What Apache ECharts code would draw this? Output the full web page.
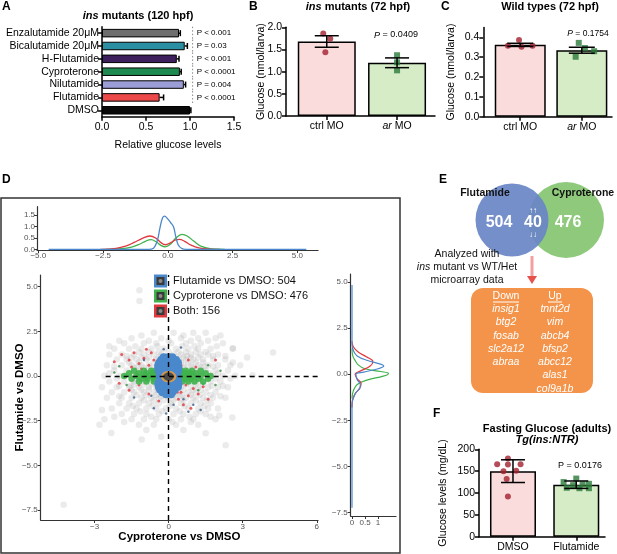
<!DOCTYPE html>
<html><head><meta charset="utf-8">
<script src="https://cdn.jsdelivr.net/npm/echarts@6/dist/echarts.min.js"></script>
<style>html,body{margin:0;padding:0;background:#fff}#c{width:617px;height:554px}</style>
</head><body><div id="c"></div>
<script>
const FONT = 'Liberation Sans, Arial, Helvetica, sans-serif';

// ---------- Panel A ----------
const aCategories = ['Enzalutamide 20\u03bcM','Bicalutamide 20\u03bcM','H-Flutamide','Cyproterone','Nilutamide','Flutamide','DMSO'];
const aValues = [0.875, 0.94, 0.85, 0.885, 0.93, 0.655, 1.0];
const aErrors = [0.015, 0.03, 0.025, 0.015, 0.02, 0.045, 0.01];
const aColors = ['#6e6e6e','#2a8fa2','#3c1f5c','#1f8a4f','#9b9dd6','#ec4a4a','#0a0a0a'];
const aPLabels = ['P < 0.001','P = 0.03','P < 0.001','P < 0.0001','P = 0.004','P < 0.0001'];
const aPLineAt = 1.03;

// ---------- Panel B ----------
const bCategories = ['ctrl MO','ar MO'];
const bMeans = [1.68, 1.20];
const bSem = [0.13, 0.11];
const bCtrlPoints = [1.86, 1.74, 1.44];
const bArPoints = [1.37, 1.21, 1.03];
const bCtrlJitter = [-0.05, 0.05, -0.02];
const bArJitter = [0, 0, 0];

// ---------- Panel C ----------
const cCategories = ['ctrl MO','ar MO'];
const cMeans = [0.362, 0.335];
const cSem = [0.008, 0.015];
const cCtrlPoints = [0.387, 0.358, 0.352, 0.358];
const cArPoints = [0.372, 0.346, 0.33, 0.302];
const cCtrlJitter = [-0.02, -0.2, 0.02, 0.2];
const cArJitter = [-0.05, 0.05, 0.2, -0.1];

// ---------- Panel F ----------
const fCategories = ['DMSO','Flutamide'];
const fMeans = [150, 119];
const fSd = [26, 8.5];
const fDmsoPoints = [179, 166, 165, 166, 150, 151, 132, 92];
const fFlutPoints = [133, 125, 121, 120, 118, 112, 111, 111];
const fDmsoJitter = [-0.08, -0.25, -0.08, 0.12, -0.15, 0.05, -0.1, -0.08];
const fFlutJitter = [0.0, -0.2, 0.2, 0.1, -0.05, -0.15, 0.05, 0.2];

// ---------- Panel D : scatter (x = Cyproterone vs DMSO, y = Flutamide vs DMSO) ----------
// rows: [y, [x values]]
const grayRows = [
 [2.42, [-0.6, 0.2, 1.0, 1.5]],
 [2.27, [-1.1, 0.6, 2.1]],
 [2.12, [-1.5, -0.3, 0.5, 1.2, 1.9]],
 [1.97, [-2.0, -0.8, 0.0, 0.9, 1.6]],
 [1.83, [-1.8, -1.0, -0.5, 0.1, 0.7, 1.3, 2.2]],
 [1.67, [-2.4, -1.35, -0.45, 0.55, 1.05, 1.95]],
 [1.52, [-2.2, -1.6, -1.1, -0.7, -0.2, 0.3, 0.8, 1.2, 1.7, 2.6]],
 [1.35, [-1.2, -0.8, -0.4, 0.0, 0.4, 0.7, 1.1, 1.5]],
 [1.21, [-2.4, -1.9, -1.4, -1.0, -0.6, -0.3, 0.2, 0.5, 0.9, 1.3, 1.6, 2.0]],
 [1.12, [-1.7, -0.15, 0.75, 1.8, 2.3]],
 [1.04, [-1.5, -1.1, -0.8, -0.4, 0.0, 0.3, 0.6, 0.9, 1.2]],
 [0.92, [-2.1, -1.7, -1.3, -0.9, -0.5, -0.2, 0.1, 0.4, 0.7, 1.0, 1.4, 1.8, 2.3]],
 [0.76, [-1.6, -1.2, -0.6, -0.3, 0.0, 0.2, 0.5, 0.8, 1.1, 1.4, 2.6]],
 [0.61, [-2.5, -1.9, -1.5, -1.1, -0.8, -0.4, -0.1, 0.3, 0.6, 0.9, 1.2, 1.6, 2.0, 2.5]],
 [0.53, [-2.2, -1.25, 0.15, 1.45, 1.8]],
 [0.46, [-1.4, -1.0, -0.7, -0.45, 0.0, 0.35, 0.65, 0.95, 1.3]],
 [0.31, [-2.2, -1.7, -1.3, -0.9, -0.6, -0.3, 0.2, 0.5, 0.8, 1.1, 1.5, 1.9, 2.4]],
 [0.15, [-2.4, -1.2, -0.8, -0.5, 0.45, 0.75, 1.2, 1.65, 2.0]],
 [0.02, [-2.6, -2.0, -1.5, -1.1, -0.7, 0.6, 1.0, 1.4, 1.8, 2.2, 2.7]],
 [-0.14, [-2.1, -1.3, -0.9, -0.5, 0.5, 0.9, 1.2, 1.9, 2.5]],
 [-0.31, [-2.4, -1.8, -1.4, -1.0, -0.6, -0.3, 0.3, 0.7, 1.0, 1.3, 1.7, 2.1]],
 [-0.46, [-1.4, -1.0, -0.7, -0.4, 0.0, 0.4, 0.7, 1.1, 1.4]],
 [-0.55, [-2.0, -1.55, 0.1, 1.75, 2.2]],
 [-0.62, [-2.7, -2.1, -1.6, -1.2, -0.8, -0.5, -0.1, 0.2, 0.5, 0.9, 1.2, 1.6, 2.0, 2.4]],
 [-0.76, [-1.5, -1.1, -0.8, -0.45, -0.1, 0.25, 0.6, 1.0, 1.3]],
 [-0.91, [-2.3, -1.8, -1.4, -1.0, -0.6, -0.3, 0.1, 0.4, 0.8, 1.1, 1.5, 1.9]],
 [-1.06, [-1.3, -0.9, -0.5, -0.15, 0.2, 0.55, 0.9, 1.25, 1.7]],
 [-1.13, [-2.0, -0.3, 0.45, 2.1]],
 [-1.22, [-2.5, -1.9, -1.5, -1.1, -0.7, -0.4, 0.0, 0.3, 0.7, 1.0, 1.4, 1.8, 2.3]],
 [-1.36, [-1.0, -0.6, -0.2, 0.2, 0.6, 1.1, 1.55]],
 [-1.52, [-2.0, -1.6, -1.2, -0.8, -0.4, 0.1, 0.5, 0.9, 1.3, 1.7]],
 [-1.67, [-1.45, -0.65, 0.05, 0.65, 1.45]],
 [-1.81, [-2.3, -1.7, -1.3, -0.9, -0.5, -0.1, 0.3, 0.8, 1.2, 1.6, 2.0]],
 [-1.97, [-1.15, -0.25, 0.45, 1.3]],
 [-2.12, [-1.9, -1.4, -0.9, -0.4, 0.2, 0.6, 1.1, 1.5]],
 [-2.27, [-2.2, -0.7, 0.85, 1.7]],
 [-2.41, [-2.6, -1.5, -1.0, -0.5, 0.0, 0.5, 1.0, 1.9]],
 [-2.57, [-1.8, 0.15, 0.9]],
 [-2.72, [-2.8, -1.2, -0.6, 0.3, 1.2]],
 [-3.02, [-0.9, 0.6]]
];
const grayOutliers = [[-4.25,-7.2],[-1.18,4.8],[-1.18,4.2],[-2.32,-3.18],[-1.09,-3.55],[2.31,-3.87],[4.23,1.31],[3.18,1.03],[2.58,-2.32],[2.6,1.55],[-2.7,-1.9],[1.5,-3.2],[-0.3,-3.4],[2.9,0.6],[3.4,0.05],[2.05,-2.2]];
const blueRows = [
 [1.05, [-0.2, 0.0, 0.15]],
 [0.9, [-0.3, -0.1, 0.1, 0.3]],
 [0.75, [-0.38, -0.2, 0.0, 0.2, 0.38]],
 [0.6, [-0.42, -0.25, -0.05, 0.15, 0.35]],
 [0.45, [-0.42, -0.22, 0.0, 0.2, 0.4]],
 [0.3, [-0.4, -0.2, 0.0, 0.2, 0.38]],
 [0.15, [-0.35, -0.18, 0.18, 0.35]],
 [0.0, [-0.35, -0.2, 0.2, 0.35]],
 [-0.15, [-0.35, -0.18, 0.18, 0.35]],
 [-0.3, [-0.38, -0.2, 0.0, 0.2, 0.38]],
 [-0.45, [-0.42, -0.22, 0.0, 0.2, 0.4]],
 [-0.6, [-0.4, -0.2, 0.0, 0.2, 0.38]],
 [-0.75, [-0.35, -0.15, 0.05, 0.25]],
 [-0.9, [-0.25, -0.05, 0.15]],
 [-1.02, [-0.1, 0.1]]
];
const blueScattered = [[0.5,1.6],[-0.6,-1.8],[0.8,-2.0],[-1.0,0.9],[0.2,-1.6],[-0.2,1.5],[1.0,-1.6],[-1.4,-1.2],[0.6,-1.3],[-0.7,-1.1],[1.3,-1.9],[-0.1,-2.1]];
const greenRows = [
 [0.3, [-1.4, -1.0, -0.7, -0.5, 0.5, 0.7, 0.95, 1.3]],
 [0.15, [-1.6, -1.2, -0.9, -0.65, -0.45, 0.45, 0.65, 0.85, 1.1, 1.5]],
 [0.0, [-1.8, -1.3, -1.0, -0.8, -0.6, -0.4, 0.4, 0.6, 0.8, 1.0, 1.3, 1.7]],
 [-0.15, [-1.5, -1.1, -0.85, -0.6, -0.45, 0.45, 0.65, 0.9, 1.2, 1.6]],
 [-0.3, [-1.2, -0.9, -0.6, 0.55, 0.8, 1.05, 1.4]]
];
const greenScattered = [[-2.0,0.55],[1.9,-0.5],[1.6,0.6],[-1.7,-0.5],[1.2,-0.8],[-2.2,0.2],[2.1,0.3],[1.4,-0.45]];
const redPoints = [[-1.9,1.2],[-1.6,0.9],[-1.4,1.3],[-1.2,0.7],[-1.0,1.0],[-0.8,0.6],[-0.6,0.9],[-0.5,0.5],[-0.9,1.5],[-1.5,0.5],[-0.3,0.7],[-0.7,1.3],[-2.2,0.8],[-1.1,0.4],
 [0.3,-0.6],[0.5,-0.9],[0.7,-0.5],[0.4,-1.3],[0.8,-1.1],[1.0,-0.7],[0.6,-1.6],[1.2,-1.0],[0.9,-1.8],[1.4,-0.6],[0.35,-0.9],[1.6,-1.3],
 [0.5,0.6],[0.8,0.9],[1.1,0.5],[-0.5,-0.6],[-0.8,-1.0],[-1.2,-0.5],[-0.4,-1.4],[-1.6,-0.8],[1.9,0.9],[-2.0,-0.4],[0.3,1.0],[-0.3,-0.9]];
const centerPoint = [[0.0, -0.03]];
const legendLabels = ['Flutamide vs DMSO: 504','Cyproterone vs DMSO: 476','Both: 156'];

// marginal densities: top = [x, density]; right = [density, y]
const topGreen = [[-2.4,0],[-1.8,0.03],[-1.4,0.1],[-1.1,0.22],[-0.85,0.36],[-0.65,0.42],[-0.45,0.33],[-0.25,0.16],[-0.1,0.11],[0.1,0.22],[0.3,0.48],[0.55,0.65],[0.75,0.58],[1.0,0.36],[1.3,0.13],[1.7,0.02],[2.2,0]];
const topRed = [[-2.6,0],[-2.0,0.04],[-1.6,0.15],[-1.3,0.3],[-1.0,0.47],[-0.7,0.58],[-0.45,0.48],[-0.25,0.28],[-0.1,0.2],[0.1,0.28],[0.3,0.41],[0.45,0.43],[0.65,0.35],[0.9,0.18],[1.2,0.06],[1.6,0.01],[2.0,0]];
const topBlue = [[-4.6,0],[-0.75,0],[-0.55,0.05],[-0.4,0.4],[-0.3,0.95],[-0.2,1.38],[-0.12,1.45],[-0.02,1.35],[0.1,1.18],[0.22,0.98],[0.3,0.6],[0.4,0.2],[0.55,0.03],[0.7,0],[5.35,0]];
const rightGreen = [[0,1.4],[0.03,1.0],[0.12,0.75],[0.25,0.5],[0.5,0.3],[1.1,0.15],[1.4,0.05],[1.2,-0.1],[0.6,-0.3],[0.2,-0.55],[0.05,-0.9],[0,-1.3]];
const rightRed = [[0,1.8],[0.05,1.5],[0.25,1.2],[0.55,0.95],[0.8,0.7],[0.7,0.45],[0.35,0.2],[0.12,0.0],[0.2,-0.25],[0.35,-0.5],[0.3,-0.75],[0.12,-1.05],[0.02,-1.4],[0,-1.8]];
const rightBlue = [[0,4.85],[0,1.6],[0.05,1.3],[0.2,1.0],[0.6,0.75],[1.1,0.55],[1.22,0.45],[1.0,0.3],[0.45,0.12],[0.15,0.0],[0.2,-0.3],[0.32,-0.55],[0.3,-0.75],[0.15,-1.0],[0.05,-1.3],[0,-1.6],[0,-7.25]];

// ---------- Panel E ----------
const vennLeftName = 'Flutamide', vennRightName = 'Cyproterone';
const vennCounts = ['504','40','476'];
const downGenes = ['insig1','btg2','fosab','slc2a12','abraa'];
const upGenes = ['tnnt2d','vim','abcb4','bfsp2','abcc12','alas1','col9a1b'];

// ================= helpers =================
function expandRows(rows){ const out=[]; rows.forEach(r=>r[1].forEach(x=>out.push([x,r[0]]))); return out; }
function mfmt(v,d){ const s=Math.abs(v).toFixed(d); return v<-1e-9 ? '\u2212'+s : s; }
const BLK = {color:'#000', width:1.5};
function gpAxis(extra){ // GraphPad-like axis
  return Object.assign({
    nameMoveOverlap:false,
    axisLine:{show:true, onZero:false, lineStyle:BLK},
    axisTick:{show:true, length:4, lineStyle:BLK},
    axisLabel:{color:'#000', fontSize:10.5, fontFamily:FONT, margin:4},
    splitLine:{show:false},
    nameTextStyle:{color:'#000', fontSize:10.5, fontFamily:FONT}
  }, extra);
}
function ggAxis(extra){
  return Object.assign({
    nameMoveOverlap:false,
    axisLine:{show:true, onZero:false, lineStyle:{color:'#333', width:1.2}},
    axisTick:{show:true, length:3, lineStyle:{color:'#333', width:1}},
    axisLabel:{color:'#555', fontSize:8, fontFamily:FONT, margin:3},
    splitLine:{show:false}
  }, extra);
}
function vErr(cap){
  return function(params, api){
    const x=api.value(0), lo=api.value(1), hi=api.value(2);
    const a=api.coord([x,lo]), b=api.coord([x,hi]);
    const st={stroke:'#000', lineWidth:1.5};
    return {type:'group', children:[
      {type:'line', shape:{x1:a[0],y1:a[1],x2:b[0],y2:b[1]}, style:st},
      {type:'line', shape:{x1:a[0]-cap,y1:a[1],x2:a[0]+cap,y2:a[1]}, style:st},
      {type:'line', shape:{x1:b[0]-cap,y1:b[1],x2:b[0]+cap,y2:b[1]}, style:st}
    ]};
  };
}
function twoCatAxis(gi, min, max, cats, italicFirstWordOf){
  return gpAxis({gridIndex:gi, type:'value', min:min, max:max,
    axisTick:{show:true, length:4, lineStyle:BLK, customValues:[0,1]},
    axisLabel:{color:'#000', fontSize:10.5, fontFamily:FONT, margin:5, customValues:[0,1],
      formatter:function(v){ const i=Math.round(v); if(i===italicFirstWordOf){ const parts=cats[i].split(' '); return '{i|'+parts[0]+'} '+parts.slice(1).join(' ');} return cats[i]; },
      rich:{i:{fontStyle:'italic', fontSize:10.5, fontFamily:FONT, color:'#000'}}}
  });
}
function barData(means, fills){ return means.map((m,i)=>({value:[i,m], itemStyle:{color:fills[i], borderColor:'#000', borderWidth:1.5}})); }
function errData(means, errs){ return means.map((m,i)=>[i, m-errs[i], m+errs[i]]); }
function dotData(points, jitter, catIdx){ return points.map((p,i)=>[catIdx+jitter[i], p]); }

const PINK='#fadcdc', LGREEN='#d5ecc6', DOTRED='#a3202e', DOTGREEN='#2b7a3b';

const option = {
  animation:false,
  textStyle:{fontFamily:FONT},
  grid:[
    {left:102, top:26.7, width:132, height:90},          // 0 A
    {left:286, top:27.3, width:149, height:88.7},        // 1 B
    {left:483.3, top:27.4, width:128.7, height:89.3},    // 2 C
    {left:479, top:449.3, width:126, height:87.4},       // 3 F
    {left:40.7, top:275, width:277.3, height:245},       // 4 D scatter
    {left:37, top:206.7, width:281, height:43.3},        // 5 D top density
    {left:350.7, top:274, width:45.3, height:242}        // 6 D right density
  ],
  xAxis:[
    gpAxis({gridIndex:0, type:'value', min:0, max:1.5, interval:0.5, axisLabel:{color:'#000', fontSize:10.5, fontFamily:FONT, margin:5, formatter:v=>v.toFixed(1)},
      name:'Relative glucose levels', nameLocation:'middle', nameGap:23}),
    twoCatAxis(1, -0.58, 1.54, bCategories, 1),
    twoCatAxis(2, -0.6, 1.49, cCategories, 1),
    twoCatAxis(3, -0.537, 1.454, fCategories, -1),
    ggAxis({gridIndex:4, type:'value', min:-5.18, max:6.05,
      axisTick:{show:true, length:3, lineStyle:{color:'#333'}, customValues:[-3,0,3,6]},
      axisLabel:{color:'#555', fontSize:8, fontFamily:FONT, margin:3, customValues:[-3,0,3,6], formatter:v=>mfmt(v,0)},
      name:'Cyproterone vs DMSO', nameLocation:'middle', nameGap:11,
      nameTextStyle:{color:'#000', fontSize:11.5, fontWeight:'bold', fontFamily:FONT}}),
    ggAxis({gridIndex:5, type:'value', min:-5.05, max:5.8,
      axisTick:{show:true, length:3, lineStyle:{color:'#333'}, customValues:[-5,-2.5,0,2.5,5]},
      axisLabel:{color:'#555', fontSize:8, fontFamily:FONT, margin:2, customValues:[-5,-2.5,0,2.5,5], formatter:v=>mfmt(v,1)}}),
    ggAxis({gridIndex:6, type:'value', min:-0.05, max:1.69,
      axisTick:{show:true, length:3, lineStyle:{color:'#333'}, customValues:[0,0.5,1]},
      axisLabel:{color:'#555', fontSize:8, fontFamily:FONT, margin:3, customValues:[0,0.5,1], formatter:v=>String(v)}})
  ],
  yAxis:[
    gpAxis({gridIndex:0, type:'category', data:aCategories, inverse:true,
      axisTick:{show:true, length:4, alignWithLabel:true, interval:0, lineStyle:BLK},
      axisLabel:{color:'#000', fontSize:10.5, fontFamily:FONT, margin:3, interval:0}}),
    gpAxis({gridIndex:1, type:'value', min:0, max:2, interval:0.5, axisLabel:{color:'#000', fontSize:10.5, fontFamily:FONT, margin:4, formatter:v=>v.toFixed(1)},
      name:'Glucose (nmol/larva)', nameLocation:'middle', nameGap:19}),
    gpAxis({gridIndex:2, type:'value', min:0, max:0.45,
      axisTick:{show:true, length:4, lineStyle:BLK, customValues:[0,0.1,0.2,0.3,0.4]},
      axisLabel:{color:'#000', fontSize:10.5, fontFamily:FONT, margin:4, customValues:[0,0.1,0.2,0.3,0.4], formatter:v=>v.toFixed(1)},
      name:'Glucose (nmol/larva)', nameLocation:'middle', nameGap:27}),
    gpAxis({gridIndex:3, type:'value', min:0, max:200, interval:50, axisLabel:{color:'#000', fontSize:10.5, fontFamily:FONT, margin:4},
      name:'Glucose levels (mg/dL)', nameLocation:'middle', nameGap:30}),
    ggAxis({gridIndex:4, type:'value', min:-8.05, max:5.65,
      axisTick:{show:true, length:3, lineStyle:{color:'#333'}, customValues:[-7.5,-5,-2.5,0,2.5,5]},
      axisLabel:{color:'#555', fontSize:8, fontFamily:FONT, margin:3, customValues:[-7.5,-5,-2.5,0,2.5,5], formatter:v=>mfmt(v,1)},
      name:'Flutamide vs DMSO', nameLocation:'middle', nameGap:15,
      nameTextStyle:{color:'#000', fontSize:11.5, fontWeight:'bold', fontFamily:FONT}}),
    ggAxis({gridIndex:5, type:'value', min:-0.03, max:1.86,
      axisTick:{show:true, length:3, lineStyle:{color:'#333'}, customValues:[0,0.5,1,1.5]},
      axisLabel:{color:'#555', fontSize:8, fontFamily:FONT, margin:2, customValues:[0,0.5,1,1.5], formatter:v=>v.toFixed(1)}}),
    ggAxis({gridIndex:6, type:'value', min:-7.7, max:5.45,
      axisTick:{show:true, length:3, lineStyle:{color:'#333'}, customValues:[-7.5,-5,-2.5,0,2.5,5]},
      axisLabel:{color:'#555', fontSize:8, fontFamily:FONT, margin:3, customValues:[-7.5,-5,-2.5,0,2.5,5], formatter:v=>mfmt(v,1)}})
  ],
  series:[
    // ---- A ----
    {type:'bar', xAxisIndex:0, yAxisIndex:0, barWidth:8.5,
      data:aValues.map((v,i)=>({value:v, itemStyle:{color:aColors[i], borderColor:'#000', borderWidth:1}}))},
    {type:'custom', xAxisIndex:0, yAxisIndex:0, z:5,
      data:aValues.map((v,i)=>[v, i, v+aErrors[i]]),
      renderItem:function(params, api){
        const a=api.coord([api.value(0), api.value(1)]), b=api.coord([api.value(2), api.value(1)]);
        const st={stroke:'#000', lineWidth:1.5};
        return {type:'group', children:[
          {type:'line', shape:{x1:a[0],y1:a[1],x2:b[0],y2:b[1]}, style:st},
          {type:'line', shape:{x1:b[0],y1:b[1]-3,x2:b[0],y2:b[1]+3}, style:st}]};
      }},
    {type:'custom', xAxisIndex:0, yAxisIndex:0, z:5,
      data:aPLabels.map((t,i)=>[aPLineAt, i]),
      renderItem:function(params, api){
        const p=api.coord([api.value(0), api.value(1)]);
        const h=api.size([0,1])[1];
        return {type:'group', children:[
          {type:'line', shape:{x1:p[0],y1:p[1]-h/2,x2:p[0],y2:p[1]+h/2}, style:{stroke:'#888', lineWidth:1, lineDash:[1.5,2]}},
          {type:'text', x:p[0]+4, y:p[1], style:{text:aPLabels[params.dataIndex], font:'8px '+FONT, fill:'#000', align:'left', verticalAlign:'middle', textAlign:'left', textVerticalAlign:'middle'}}]};
      }},
    // ---- B ----
    {type:'bar', xAxisIndex:1, yAxisIndex:1, barWidth:58, data:barData(bMeans,[PINK,LGREEN])},
    {type:'scatter', xAxisIndex:1, yAxisIndex:1, symbol:'circle', symbolSize:6, itemStyle:{color:DOTRED}, data:dotData(bCtrlPoints,bCtrlJitter,0), z:3},
    {type:'scatter', xAxisIndex:1, yAxisIndex:1, symbol:'rect', symbolSize:6, itemStyle:{color:DOTGREEN}, data:dotData(bArPoints,bArJitter,1), z:3},
    {type:'custom', xAxisIndex:1, yAxisIndex:1, z:5, data:errData(bMeans,bSem), renderItem:vErr(12)},
    // ---- C ----
    {type:'bar', xAxisIndex:2, yAxisIndex:2, barWidth:51, data:barData(cMeans,[PINK,LGREEN])},
    {type:'scatter', xAxisIndex:2, yAxisIndex:2, symbol:'circle', symbolSize:6, itemStyle:{color:DOTRED}, data:dotData(cCtrlPoints,cCtrlJitter,0), z:3},
    {type:'scatter', xAxisIndex:2, yAxisIndex:2, symbol:'rect', symbolSize:6, itemStyle:{color:DOTGREEN}, data:dotData(cArPoints,cArJitter,1), z:3},
    {type:'custom', xAxisIndex:2, yAxisIndex:2, z:5, data:errData(cMeans,cSem), renderItem:vErr(13)},
    // ---- F ----
    {type:'bar', xAxisIndex:3, yAxisIndex:3, barWidth:46, data:barData(fMeans,[PINK,LGREEN])},
    {type:'scatter', xAxisIndex:3, yAxisIndex:3, symbol:'circle', symbolSize:6, itemStyle:{color:DOTRED}, data:dotData(fDmsoPoints,fDmsoJitter,0), z:3},
    {type:'scatter', xAxisIndex:3, yAxisIndex:3, symbol:'rect', symbolSize:6, itemStyle:{color:DOTGREEN}, data:dotData(fFlutPoints,fFlutJitter,1), z:3},
    {type:'custom', xAxisIndex:3, yAxisIndex:3, z:5, data:errData(fMeans,fSd), renderItem:vErr(12)},
    // ---- D scatter ----
    {type:'scatter', xAxisIndex:4, yAxisIndex:4, symbolSize:6.5, itemStyle:{color:'rgba(160,160,160,0.26)'},
      data:expandRows(grayRows).concat(grayOutliers),
      markLine:{silent:true, symbol:'none', label:{show:false}, z:10, lineStyle:{color:'#000', type:[5,4], width:1.4},
        data:[[{coord:[0,-8.05]},{coord:[0,5.65]}],[{coord:[-2.55,0]},{coord:[6.05,0]}]]}},
    {type:'scatter', xAxisIndex:4, yAxisIndex:4, symbolSize:3, itemStyle:{color:'#e0393e'}, data:redPoints},
    {type:'scatter', xAxisIndex:4, yAxisIndex:4, symbolSize:2.5, itemStyle:{color:'#3a8a44'}, data:greenScattered},
    {type:'scatter', xAxisIndex:4, yAxisIndex:4, symbolSize:2.5, itemStyle:{color:'#3b5f8c'}, data:blueScattered},
    {type:'scatter', xAxisIndex:4, yAxisIndex:4, symbolSize:6.5, itemStyle:{color:'#3fb24b', opacity:0.9}, data:expandRows(greenRows)},
    {type:'scatter', xAxisIndex:4, yAxisIndex:4, symbolSize:8, itemStyle:{color:'#4a88cc', opacity:1}, data:expandRows(blueRows)},
    {type:'scatter', xAxisIndex:4, yAxisIndex:4, symbol:'circle', symbolSize:[13,10], z:4,
      itemStyle:{color:'#4a3a28', borderColor:'#f2a444', borderWidth:2}, data:centerPoint},
    // ---- D top density ----
    {type:'line', xAxisIndex:5, yAxisIndex:5, data:topGreen, smooth:0.4, showSymbol:false, lineStyle:{color:'#3fb24b', width:1.3}},
    {type:'line', xAxisIndex:5, yAxisIndex:5, data:topRed, smooth:0.4, showSymbol:false, lineStyle:{color:'#e0393e', width:1.3}},
    {type:'line', xAxisIndex:5, yAxisIndex:5, data:topBlue, smooth:0.4, showSymbol:false, lineStyle:{color:'#4a88cc', width:1.3}},
    // ---- D right density ----
    {type:'line', xAxisIndex:6, yAxisIndex:6, data:rightGreen, smooth:0.4, showSymbol:false, lineStyle:{color:'#3fb24b', width:1.2}},
    {type:'line', xAxisIndex:6, yAxisIndex:6, data:rightRed, smooth:0.4, showSymbol:false, lineStyle:{color:'#e0393e', width:1.2}},
    {type:'line', xAxisIndex:6, yAxisIndex:6, data:rightBlue, smooth:0.4, showSymbol:false, lineStyle:{color:'#4a88cc', width:1.2}}
  ],
  graphic:[]
};

// ---------- annotations ----------
const G = option.graphic;
function txt(x,y,text,font,fill,align,rich){
  const st={text:text, font:font, fill:fill||'#000', align:align||'center', verticalAlign:'middle', textAlign:align||'center', textVerticalAlign:'middle'};
  if(rich) st.rich=rich;
  G.push({type:'text', x:x, y:y, z:100, style:st});
}
const B11 = 'bold 11px '+FONT;
const richBI = {i:{fontStyle:'italic', fontWeight:'bold', fontSize:11, fontFamily:FONT, fill:'#000'}};
const richI9 = {i:{fontStyle:'italic', fontSize:9, fontFamily:FONT, fill:'#000'}};
// panel letters
[['A',2,7],['B',249,7],['C',441,7],['D',2,180],['E',439,180],['F',433,414]].forEach(l=>txt(l[1],l[2],l[0],'bold 12px '+FONT,'#000','left'));
// titles
txt(138,16,'{i|ins} mutants (120 hpf)',B11,'#000','center',richBI);
txt(358,7,'{i|ins} mutants (72 hpf)',B11,'#000','center',richBI);
txt(550,7,'Wild types (72 hpf)',B11,'#000','center');
txt(396,35,'{i|P} = 0.0409','9px '+FONT,'#000','center',richI9);
txt(588,34,'{i|P} = 0.1754','8.5px '+FONT,'#000','center',{i:{fontStyle:'italic', fontSize:8.5, fontFamily:FONT, fill:'#000'}});
txt(547,429,'Fasting Glucose (adults)',B11,'#000','center');
txt(547,440,'Tg(ins:NTR)','italic bold 11px '+FONT,'#000','center');
txt(580,466,'P = 0.0176','9px '+FONT,'#000','center');
// D frame
G.push({type:'rect', z:90, shape:{x:1, y:198, width:399, height:355}, style:{fill:'none', stroke:'#333', lineWidth:1.5}});
// D legend
const legCols=['#4a88cc','#3fb24b','#e0393e'];
legendLabels.forEach((t,i)=>{
  const cy=281+15*i;
  G.push({type:'rect', z:95, shape:{x:154, y:cy-6.5, width:13, height:13}, style:{fill:legCols[i]}});
  G.push({type:'rect', z:96, shape:{x:156.5, y:cy-4, width:8, height:8}, style:{fill:'#3a3a3a'}});
  G.push({type:'circle', z:97, shape:{cx:160.5, cy:cy, r:2}, style:{fill:'#8a8a8a'}});
  txt(173,cy,t,'11px '+FONT,'#111','left');
});
// E venn
G.push({type:'circle', z:50, shape:{cx:566, cy:220, r:38}, style:{fill:'#8ec97c'}});
G.push({type:'circle', z:51, shape:{cx:512, cy:220, r:36.5}, style:{fill:'#6b86c6', opacity:0.93}});
txt(485,193,vennLeftName,'bold 10.5px '+FONT,'#111','center');
txt(583,193,vennRightName,'bold 10.5px '+FONT,'#111','center');
txt(499,223,vennCounts[0],'bold 16px '+FONT,'#fff','center');
txt(533,223,vennCounts[1],'bold 16px '+FONT,'#fff','center');
txt(568,223,vennCounts[2],'bold 16px '+FONT,'#fff','center');
txt(533,211,'\u2191\u2191','bold 8px '+FONT,'#fff','center');
txt(533,235,'\u2193\u2193','bold 8px '+FONT,'#fff','center');
txt(467,254,'Analyzed with','10.5px '+FONT,'#111','center');
txt(467,267,'{i|ins} mutant vs WT/Het','10.5px '+FONT,'#111','center',{i:{fontStyle:'italic', fontSize:10.5, fontFamily:FONT, fill:'#111'}});
txt(467,280,'microarray data','10.5px '+FONT,'#111','center');
G.push({type:'line', z:60, shape:{x1:532, y1:256, x2:532, y2:277}, style:{stroke:'#f0a0a0', lineWidth:3}});
G.push({type:'polygon', z:61, shape:{points:[[527,276],[537,276],[532,284]]}, style:{fill:'#e8504a'}});
G.push({type:'rect', z:60, shape:{x:471, y:288, width:122, height:105, r:12}, style:{fill:'#f4944a'}});
txt(506,296,'Down','10.5px '+FONT,'#fff','center');
txt(555,296,'Up','10.5px '+FONT,'#fff','center');
G.push({type:'line', z:101, shape:{x1:493, y1:302, x2:519, y2:302}, style:{stroke:'#fff', lineWidth:1}});
G.push({type:'line', z:101, shape:{x1:548, y1:302, x2:562, y2:302}, style:{stroke:'#fff', lineWidth:1}});
downGenes.forEach((g,i)=>txt(506,309+13.3*i,g,'italic 10.5px '+FONT,'#fff','center'));
upGenes.forEach((g,i)=>txt(555,309+13.3*i,g,'italic 10.5px '+FONT,'#fff','center'));

const chart = echarts.init(document.getElementById('c'));
chart.setOption(option);
</script></body></html>
